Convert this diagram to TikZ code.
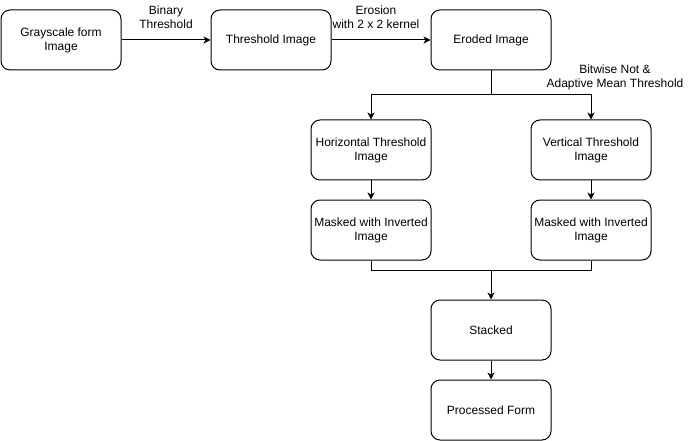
\documentclass[tikz,border=0pt]{standalone}
\usepackage{fontspec}
\setmainfont{Liberation Sans}
\usetikzlibrary{arrows.meta}
\begin{document}
\begin{tikzpicture}[x=1pt,y=-1pt,
  box/.style={draw,line width=1pt,rounded corners=9pt,minimum width=120pt,minimum height=60pt,align=center,inner sep=0pt,font=\fontsize{12}{14}\selectfont},
  lbl/.style={align=center,inner sep=0pt,font=\fontsize{12}{14}\selectfont},
  arr/.style={line width=1pt,-{Stealth[length=7pt,width=7pt,inset=2pt]}},
  ln/.style={line width=1pt}]
\useasboundingbox (0,0) rectangle (691,441);
\node[box] (gray) at (61,40) {Grayscale form\\Image};
\node[box] (thr) at (271,40) {Threshold Image};
\node[box] (ero) at (491,40) {Eroded Image};
\node[box] (hor) at (371,150) {Horizontal Threshold\\Image};
\node[box] (ver) at (591,150) {Vertical Threshold\\Image};
\node[box] (mh) at (371,230) {Masked with Inverted\\Image};
\node[box] (mv) at (591,230) {Masked with Inverted\\Image};
\node[box] (st) at (491,330) {Stacked};
\node[box] (pf) at (491,410) {Processed Form};
\coordinate (split) at (491,95);
\coordinate (join) at (491,270);
\draw[arr] (gray) -- (thr);
\draw[arr] (thr) -- (ero);
\node[lbl] (l1) at (166,17) {Binary\\Threshold};
\node[lbl] (l2) at (376,17) {Erosion\\with 2 x 2 kernel};
\node[lbl] (l3) at (615,77) {Bitwise Not \&\\Adaptive Mean Threshold};
\draw[ln] (ero.south) -- (split);
\draw[arr] (split) -| (hor.north);
\draw[arr] (split) -| (ver.north);
\draw[arr] (hor) -- (mh);
\draw[arr] (ver) -- (mv);
\draw[ln] (mh.south) |- (join);
\draw[ln] (mv.south) |- (join);
\draw[arr] (join) -- (st.north);
\draw[arr] (st) -- (pf);
\end{tikzpicture}
\end{document}
